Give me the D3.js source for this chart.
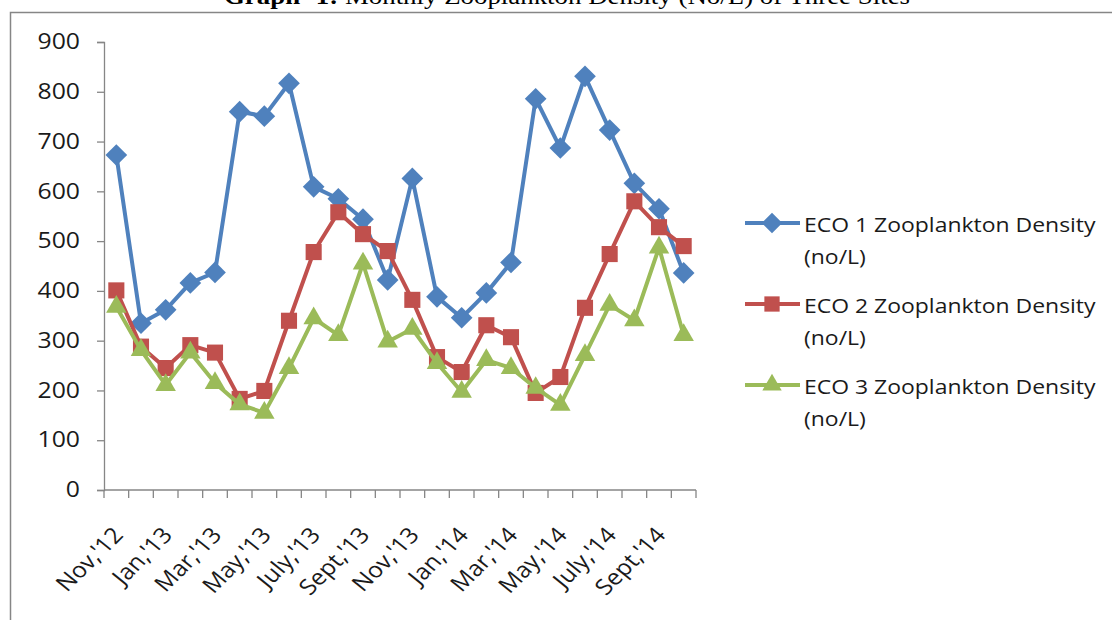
<!DOCTYPE html>
<html>
<head>
<meta charset="utf-8">
<script src="https://cdn.jsdelivr.net/npm/d3@7"></script>
<style>
  html, body { margin: 0; padding: 0; background: #fff; }
  svg { display: block; }
  text { font-family: "Open Sans", "DejaVu Sans", sans-serif; fill: #1a1a1a; }
</style>
</head>
<body>
<svg id="chart" width="1112" height="620"></svg>
<script>
// Monthly sampling periods, Nov 2012 – Oct 2014
const months = ["Nov,'12","Dec,'12","Jan,'13","Feb,'13","Mar,'13","Apr,'13","May,'13","June,'13",
  "July,'13","Aug,'13","Sept,'13","Oct,'13","Nov,'13","Dec,'13","Jan,'14","Feb,'14",
  "Mar,'14","Apr,'14","May,'14","June,'14","July,'14","Aug,'14","Sept,'14","Oct,'14"];

// Zooplankton density (no/L) at each site
const eco1 = [673, 335, 362, 416, 437, 760, 751, 817, 609, 585, 544, 422,
  626, 388, 346, 396, 457, 786, 687, 831, 723, 616, 565, 436];
const eco2 = [401, 288, 245, 291, 276, 183, 199, 340, 478, 558, 514, 480,
  382, 267, 237, 331, 307, 195, 227, 366, 474, 580, 528, 490];
const eco3 = [368, 281, 211, 276, 215, 172, 155, 245, 345, 311, 455, 298,
  324, 255, 197, 261, 245, 205, 171, 271, 372, 341, 487, 311];

const seriesNames = ["ECO 1 Zooplankton Density", "ECO 2 Zooplankton Density", "ECO 3 Zooplankton Density"];
const yTicks = [0, 100, 200, 300, 400, 500, 600, 700, 800, 900];

const colors = ["#4F81BD", "#C0504D", "#9BBB59"];
const shapes = [d3.symbolDiamond2, d3.symbolSquare2, d3.symbolTriangle2];

const svg = d3.select("#chart");
const axisColor = "#868686";
const sx = 1.12; // horizontal widening applied to the text

// outer frame of the figure
svg.append("path")
  .attr("d", "M10.5,640 L10.5,12.5 L1130,12.5")
  .attr("fill", "none").attr("stroke", axisColor).attr("stroke-width", 1.5);

// title, partly above the top edge
const title = svg.append("text")
  .attr("transform", `translate(567,4) scale(${sx},1)`)
  .attr("text-anchor", "middle")
  .style("font-family", "'Liberation Serif', 'Times New Roman', serif")
  .style("font-size", "24px").style("fill", "#000");
title.append("tspan").style("font-weight", "bold").text("Graph- 1:");
title.append("tspan").text(" Monthly Zooplankton Density (No/L) of Three Sites");

const x = d3.scaleBand().domain(months).range([104, 696]).paddingInner(0).paddingOuter(0);
const y = d3.scaleLinear().domain([0, 900]).range([490, 42]);
const cx = d => x(d) + x.bandwidth() / 2;

// y axis
const yAxis = svg.append("g").attr("transform", "translate(104,0)")
  .call(d3.axisLeft(y).tickValues(yTicks).tickSize(7).tickPadding(17));
yAxis.select(".domain").attr("stroke", axisColor).attr("stroke-width", 1.3);
yAxis.selectAll(".tick line").attr("stroke", axisColor).attr("stroke-width", 1.3);
yAxis.selectAll(".tick text")
  .style("font-size", "21px").style("font-family", "'Open Sans', sans-serif")
  .attr("fill", "#1a1a1a")
  .attr("x", 0)
  .attr("transform", `translate(-24,0) scale(1.18,1)`);

// x axis line with category boundary ticks
const xAxis = svg.append("g").attr("transform", "translate(0,490)");
xAxis.append("line").attr("x1", 104).attr("x2", 696).attr("stroke", axisColor).attr("stroke-width", 1.3);
const boundaries = months.map(m => x(m)).concat([x(months[months.length - 1]) + x.bandwidth()]);
xAxis.selectAll("line.tk").data(boundaries).enter().append("line")
  .attr("class", "tk")
  .attr("x1", d => d).attr("x2", d => d).attr("y1", 0).attr("y2", 8)
  .attr("stroke", axisColor).attr("stroke-width", 1.3);

// rotated month labels, every second month
const labelled = months.filter((m, i) => i % 2 === 0);
svg.append("g").selectAll("text").data(labelled).enter().append("text")
  .attr("transform", d => `translate(${cx(d) + 8},536) scale(${sx},1) rotate(-48)`)
  .attr("text-anchor", "end")
  .style("font-size", "22px")
  .text(d => d);

// series lines and markers
const data = [eco1, eco2, eco3];
const line = d3.line().x((v, i) => cx(months[i])).y(v => y(v));
const markerSize = [300, 330, 300];

data.forEach((vals, s) => {
  const g = svg.append("g");
  g.append("path").datum(vals).attr("d", line)
    .attr("fill", "none").attr("stroke", colors[s]).attr("stroke-width", 4)
    .attr("stroke-linejoin", "round");
  g.selectAll("path.m").data(vals).enter().append("path")
    .attr("class", "m")
    .attr("d", d3.symbol().type(shapes[s]).size(markerSize[s]))
    .attr("transform", (v, i) => `translate(${cx(months[i])},${y(v)})`)
    .attr("fill", colors[s]);
});

// legend
const legendY = [223, 304, 385];
const legend = svg.append("g");
seriesNames.forEach((name, s) => {
  const ly = legendY[s];
  legend.append("line").attr("x1", 745).attr("x2", 800).attr("y1", ly).attr("y2", ly)
    .attr("stroke", colors[s]).attr("stroke-width", 4);
  legend.append("path")
    .attr("d", d3.symbol().type(shapes[s]).size(markerSize[s] * 0.9))
    .attr("transform", `translate(772,${ly})`).attr("fill", colors[s]);
  legend.append("text").attr("transform", `translate(804,${ly + 9}) scale(${sx},1)`)
    .style("font-size", "20.5px").text(name);
  legend.append("text").attr("transform", `translate(804,${ly + 41}) scale(${sx},1)`)
    .style("font-size", "20.5px").text("(no/L)");
});
</script>
</body>
</html>
